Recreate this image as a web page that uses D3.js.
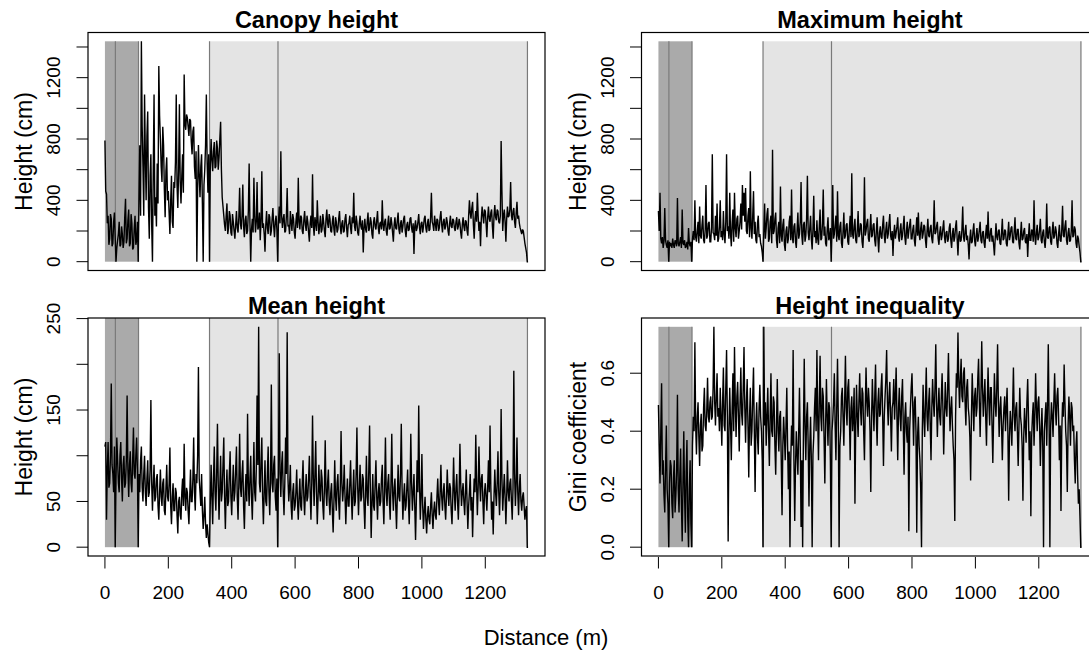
<!DOCTYPE html>
<html>
<head>
<meta charset="utf-8">
<script src="https://cdn.jsdelivr.net/npm/d3@7"></script>
<style>
  body { margin: 0; background: #fff; }
  svg { display: block; }
  text { font-family: "Liberation Sans", Arial, sans-serif; fill: #000; }
</style>
</head>
<body>
<svg id="chart" width="1089" height="655"></svg>
<script>
// Transect sampled every 2.5 m from 0 to 1335 m (one row = 50 m)
const stepMetres = 2.5;

// Canopy height (cm)
const canopyHeight = [
  790, 460, 440, 250, 300, 110, 150, 310, 280, 100, 120, 260, 320, 150, 0, 90, 140, 180, 260, 100,
  110, 230, 180, 90, 130, 290, 410, 120, 150, 270, 340, 100, 120, 310, 250, 80, 90, 220, 300, 110,
  140, 260, 0, 420, 760, 300, 1437, 880, 620, 300, 1090, 700, 400, 820, 980, 350, 150, 560, 700, 240,
  0, 600, 1090, 300, 420, 230, 640, 380, 1276, 950, 800, 620, 520, 880, 760, 470, 290, 590, 680, 400,
  460, 320, 180, 400, 560, 260, 220, 520, 480, 650, 1090, 500, 350, 600, 1026, 520, 380, 560, 700, 450,
  1220, 900, 860, 960, 940, 880, 820, 930, 920, 780, 700, 850, 880, 620, 540, 720, 0, 480, 760, 560,
  420, 620, 700, 380, 0, 500, 600, 760, 1090, 640, 450, 700, 0, 640, 800, 660, 590, 720, 780, 610,
  620, 790, 740, 600, 680, 800, 913, 600, 420, 360, 300, 240, 200, 300, 380, 180, 220, 330, 300, 190,
  170, 310, 260, 200, 150, 240, 330, 220, 190, 290, 482, 250, 210, 300, 504, 230, 160, 270, 300, 180,
  200, 330, 640, 250, 0, 210, 280, 190, 547, 300, 190, 260, 520, 210, 230, 320, 140, 270, 590, 220,
  250, 180, 65, 240, 330, 220, 180, 310, 290, 170, 200, 280, 350, 230, 160, 260, 300, 210, 0, 260,
  360, 250, 720, 300, 220, 280, 310, 190, 200, 300, 480, 230, 240, 180, 330, 260, 200, 310, 280, 190,
  150, 260, 320, 220, 547, 260, 210, 300, 290, 200, 180, 270, 330, 240, 200, 300, 260, 190, 130, 250,
  300, 220, 570, 240, 170, 290, 250, 200, 400, 260, 180, 240, 300, 190, 210, 310, 260, 200, 160, 280,
  340, 250, 220, 310, 280, 200, 190, 260, 300, 210, 170, 290, 260, 190, 210, 280, 330, 230, 180, 250,
  270, 190, 200, 280, 310, 220, 160, 240, 250, 300, 220, 180, 290, 250, 450, 230, 200, 300, 260, 190,
  170, 250, 300, 230, 210, 270, 60, 220, 280, 210, 190, 260, 320, 200, 220, 290, 260, 180, 150, 260,
  290, 230, 210, 270, 330, 220, 180, 250, 260, 210, 400, 240, 200, 260, 280, 200, 170, 250, 300, 210,
  220, 290, 250, 190, 130, 240, 290, 220, 210, 270, 320, 210, 180, 250, 270, 190, 230, 280, 300, 200,
  160, 240, 260, 200, 210, 280, 290, 220, 190, 250, 50, 230, 270, 200, 220, 260, 310, 220, 180, 250,
  260, 190, 230, 280, 300, 220, 190, 250, 280, 200, 210, 290, 450, 260, 240, 200, 300, 250, 200, 280,
  270, 200, 220, 290, 330, 240, 190, 260, 280, 210, 230, 290, 260, 200, 170, 250, 300, 230, 220, 280,
  270, 220, 200, 260, 290, 210, 230, 280, 250, 190, 150, 240, 290, 230, 200, 270, 260, 200, 170, 300,
  400, 320, 280, 350, 390, 240, 150, 280, 330, 260, 450, 300, 200, 260, 100, 280, 360, 300, 250, 340,
  330, 250, 160, 290, 360, 280, 260, 320, 340, 230, 150, 300, 370, 290, 270, 340, 330, 260, 250, 300,
  787, 460, 200, 300, 340, 260, 130, 280, 360, 290, 300, 340, 520, 300, 270, 330, 350, 260, 220, 320,
  390, 280, 300, 250, 220, 200, 180, 210, 200, 160, 120, 90, 60, 0, 0
];

// Maximum height (cm)
const maximumHeight = [
  330, 200, 450, 150, 120, 160, 90, 130, 350, 140, 110, 90, 140, 0, 130, 100, 120, 90, 150, 110,
  90, 140, 130, 100, 415, 120, 100, 130, 160, 90, 340, 120, 110, 140, 90, 100, 130, 80, 220, 120,
  100, 130, 0, 150, 200, 140, 400, 160, 130, 200, 260, 120, 360, 170, 150, 240, 300, 140, 120, 210,
  500, 150, 170, 250, 260, 130, 130, 220, 700, 190, 180, 140, 300, 170, 380, 130, 150, 230, 400, 160,
  200, 140, 330, 180, 120, 260, 700, 200, 230, 150, 450, 180, 100, 250, 340, 130, 450, 220, 160, 280,
  300, 150, 200, 260, 380, 210, 500, 300, 450, 260, 480, 200, 180, 300, 350, 160, 590, 220, 150, 300,
  460, 180, 260, 140, 120, 250, 300, 160, 180, 120, 100, 60, 0, 200, 380, 150, 220, 310, 350, 130,
  150, 260, 300, 120, 730, 180, 200, 280, 320, 140, 90, 220, 260, 120, 490, 170, 130, 240, 280, 110,
  70, 200, 230, 120, 150, 260, 300, 140, 470, 160, 120, 230, 250, 130, 90, 210, 320, 150, 180, 260,
  520, 170, 110, 240, 260, 130, 170, 280, 560, 190, 140, 220, 300, 150, 80, 210, 430, 160, 200, 120,
  270, 150, 110, 230, 340, 140, 150, 250, 470, 170, 230, 120, 100, 210, 290, 140, 160, 220, 0, 200,
  500, 150, 180, 240, 300, 130, 460, 170, 140, 230, 260, 120, 90, 200, 320, 150, 170, 240, 250, 130,
  110, 220, 300, 160, 576, 180, 150, 230, 280, 140, 120, 210, 330, 160, 180, 250, 240, 130, 90, 200,
  550, 170, 200, 250, 280, 150, 130, 220, 310, 160, 170, 240, 250, 140, 100, 200, 290, 150, 60, 190,
  230, 160, 150, 240, 300, 170, 120, 210, 260, 150, 180, 250, 310, 170, 140, 200, 37, 180, 240, 150,
  190, 230, 290, 160, 130, 210, 250, 140, 170, 230, 300, 160, 110, 200, 260, 150, 200, 240, 280, 150,
  150, 210, 240, 140, 100, 200, 290, 170, 320, 180, 140, 220, 260, 150, 180, 240, 230, 140, 90, 200,
  280, 170, 160, 220, 240, 150, 120, 210, 400, 180, 190, 230, 260, 150, 110, 190, 230, 140, 170, 220,
  270, 160, 120, 190, 200, 130, 150, 220, 250, 140, 90, 180, 220, 130, 160, 230, 270, 150, 40, 170,
  200, 130, 140, 210, 360, 160, 130, 200, 240, 140, 170, 110, 15, 150, 210, 120, 130, 200, 250, 140,
  100, 170, 220, 130, 160, 210, 260, 140, 120, 190, 200, 120, 90, 180, 240, 150, 327, 160, 130, 200,
  220, 130, 170, 110, 40, 150, 250, 160, 140, 200, 210, 120, 110, 190, 280, 140, 150, 210, 200, 120,
  100, 180, 260, 140, 170, 220, 230, 130, 120, 200, 290, 150, 140, 210, 210, 120, 80, 180, 260, 140,
  150, 200, 220, 130, 120, 180, 30, 160, 250, 140, 140, 210, 200, 130, 400, 170, 110, 190, 240, 140,
  160, 210, 280, 140, 120, 190, 210, 130, 90, 170, 380, 160, 150, 220, 230, 130, 110, 200, 260, 150,
  170, 230, 200, 120, 90, 180, 240, 140, 130, 210, 365, 170, 160, 230, 270, 140, 110, 190, 220, 130,
  140, 200, 400, 160, 170, 230, 210, 120, 90, 170, 150, 100, 60, 0, 0
];

// Mean height (cm)
const meanHeight = [
  110, 115, 30, 85, 115, 65, 70, 100, 179, 90, 80, 60, 110, 0, 75, 120, 95, 70, 60, 100,
  115, 75, 50, 90, 100, 65, 70, 95, 166, 85, 55, 90, 105, 70, 60, 95, 131, 80, 75, 100,
  120, 85, 0, 80, 60, 95, 110, 65, 50, 80, 100, 60, 45, 75, 95, 55, 60, 85, 161, 70,
  40, 70, 90, 50, 55, 75, 80, 45, 30, 60, 85, 55, 45, 70, 75, 40, 35, 65, 90, 55,
  50, 70, 109, 45, 25, 55, 70, 40, 40, 65, 60, 35, 15, 50, 55, 35, 30, 60, 75, 45,
  113, 55, 40, 65, 60, 40, 25, 55, 85, 50, 50, 75, 120, 60, 40, 80, 70, 100, 197, 75,
  60, 45, 80, 40, 20, 35, 55, 25, 10, 25, 15, 5, 0, 50, 90, 55, 25, 75, 110, 60,
  40, 80, 135, 70, 30, 65, 100, 50, 60, 90, 120, 55, 20, 60, 85, 45, 50, 80, 105, 55,
  35, 65, 90, 50, 60, 85, 110, 55, 30, 70, 124, 65, 55, 80, 95, 45, 20, 60, 80, 50,
  146, 70, 45, 75, 100, 55, 30, 70, 115, 60, 50, 85, 166, 90, 241, 70, 60, 95, 120, 55,
  25, 60, 95, 50, 45, 80, 110, 60, 35, 75, 178, 70, 60, 90, 100, 55, 40, 75, 0, 85,
  212, 80, 55, 90, 105, 60, 35, 70, 120, 80, 235, 75, 50, 65, 90, 45, 30, 60, 70, 40,
  45, 60, 85, 50, 30, 55, 75, 45, 40, 70, 95, 55, 35, 60, 80, 50, 55, 75, 100, 60,
  30, 70, 144, 75, 45, 80, 116, 60, 25, 55, 90, 60, 50, 85, 75, 45, 30, 65, 117, 60,
  45, 70, 85, 50, 35, 60, 70, 40, 16, 50, 95, 55, 40, 70, 80, 50, 30, 65, 127, 70,
  50, 65, 90, 55, 25, 55, 75, 45, 45, 70, 95, 55, 30, 60, 85, 45, 50, 80, 131, 65,
  35, 65, 90, 50, 55, 80, 75, 45, 20, 60, 100, 55, 45, 85, 133, 60, 10, 50, 80, 45,
  40, 70, 95, 55, 30, 60, 70, 45, 50, 75, 90, 50, 25, 65, 120, 60, 45, 70, 80, 50,
  30, 70, 124, 60, 40, 65, 75, 45, 20, 55, 90, 55, 50, 80, 135, 65, 30, 55, 70, 40,
  45, 65, 85, 50, 25, 60, 124, 70, 40, 60, 80, 45, 8, 50, 95, 60, 155, 70, 30, 55,
  102, 45, 20, 40, 55, 30, 15, 35, 45, 30, 25, 45, 60, 35, 20, 40, 50, 35, 30, 55,
  75, 50, 35, 60, 90, 55, 40, 60, 70, 45, 30, 55, 85, 60, 45, 70, 65, 40, 25, 55,
  98, 60, 40, 65, 80, 50, 30, 60, 113, 70, 45, 60, 70, 50, 35, 60, 85, 50, 20, 45,
  60, 80, 40, 55, 11, 50, 75, 60, 123, 70, 35, 65, 110, 70, 50, 75, 80, 50, 25, 60,
  70, 55, 40, 65, 95, 60, 133, 65, 30, 50, 14, 55, 85, 60, 45, 70, 105, 60, 35, 65,
  151, 75, 40, 60, 80, 55, 25, 55, 95, 60, 50, 70, 75, 50, 30, 65, 193, 80, 45, 70,
  120, 60, 35, 65, 80, 50, 40, 55, 60, 45, 30, 40, 45, 0, 0
];

// Height inequality (Gini coefficient)
const giniCoefficient = [
  0.49, 0.35, 0.22, 0.40, 0.565, 0.25, 0.30, 0.18, 0.12, 0.28, 0.42, 0.20, 0.15, 0, 0.22, 0.30, 0.28, 0.15, 0.10, 0.24,
  0.30, 0.12, 0.18, 0.26, 0.526, 0.20, 0.12, 0.25, 0.34, 0.15, 0.02, 0.22, 0.40, 0.18, 0.05, 0.26, 0.37, 0.10, 0, 0.20,
  0.30, 0.08, 0, 0.35, 0.45, 0.40, 0.707, 0.42, 0.32, 0.45, 0.50, 0.38, 0.28, 0.42, 0.46, 0.33, 0.35, 0.48, 0.55, 0.42,
  0.40, 0.47, 0.584, 0.45, 0.43, 0.50, 0.52, 0.44, 0.45, 0.55, 0.76, 0.50, 0.42, 0.52, 0.60, 0.45, 0.48, 0.40, 0.55, 0.45,
  0.35, 0.50, 0.62, 0.42, 0.40, 0.55, 0.68, 0.45, 0.02, 0.40, 0.55, 0.42, 0.30, 0.48, 0.60, 0.40, 0.69, 0.50, 0.38, 0.52,
  0.57, 0.45, 0.33, 0.50, 0.62, 0.46, 0.42, 0.55, 0.69, 0.48, 0.36, 0.50, 0.58, 0.42, 0.24, 0.45, 0.55, 0.35, 0.40, 0.52,
  0.62, 0.40, 0.19, 0.42, 0.50, 0.38, 0.32, 0.48, 0.56, 0.45, 0.40, 0.30, 0, 0.76, 0.42, 0.50, 0.35, 0.45, 0.55, 0.40,
  0.28, 0.45, 0.60, 0.40, 0.38, 0.52, 0.50, 0.35, 0.25, 0.42, 0.58, 0.40, 0.33, 0.45, 0.47, 0.30, 0.11, 0.35, 0.45, 0.38,
  0.30, 0.42, 0.55, 0.35, 0.20, 0.33, 0, 0.30, 0.42, 0.35, 0.68, 0.30, 0.09, 0.28, 0.40, 0.32, 0.25, 0.40, 0.55, 0.35,
  0.07, 0.30, 0, 0.40, 0.65, 0.42, 0.30, 0.45, 0.50, 0.35, 0.14, 0.35, 0.45, 0.30, 0, 0.32, 0.38, 0.48, 0.55, 0.40,
  0.68, 0.45, 0.30, 0.50, 0.66, 0.45, 0.40, 0.55, 0.52, 0.38, 0.22, 0.42, 0.58, 0.45, 0.35, 0.50, 0.48, 0.30, 0, 0.40,
  0.44, 0.50, 0.60, 0.42, 0.30, 0.48, 0.65, 0.45, 0, 0.35, 0.40, 0.52, 0.55, 0.45, 0.35, 0.50, 0.66, 0.48, 0.42, 0.55,
  0.58, 0.45, 0.30, 0.48, 0.52, 0.40, 0.45, 0.55, 0.15, 0.42, 0.56, 0.45, 0.38, 0.50, 0.60, 0.48, 0.42, 0.55, 0.53, 0.40,
  0.30, 0.48, 0.62, 0.50, 0.45, 0.55, 0.50, 0.40, 0.19, 0.45, 0.58, 0.48, 0.40, 0.52, 0.63, 0.45, 0.35, 0.50, 0.55, 0.45,
  0.46, 0.55, 0.60, 0.45, 0.28, 0.45, 0.52, 0.58, 0.68, 0.50, 0.42, 0.52, 0.57, 0.45, 0.33, 0.48, 0.50, 0.58, 0.44, 0.52,
  0.62, 0.45, 0.30, 0.48, 0.55, 0.45, 0.40, 0.52, 0.58, 0.42, 0.25, 0.45, 0.50, 0.40, 0.36, 0.45, 0.055, 0.40, 0.48, 0.55,
  0.60, 0.48, 0.35, 0.50, 0.52, 0.40, 0.05, 0.38, 0.45, 0.35, 0.30, 0.20, 0, 0.40, 0.56, 0.45, 0.38, 0.50, 0.62, 0.45,
  0.40, 0.50, 0.55, 0.42, 0.30, 0.48, 0.58, 0.50, 0.45, 0.55, 0.70, 0.50, 0.38, 0.48, 0.55, 0.45, 0.42, 0.52, 0.60, 0.48,
  0.32, 0.45, 0.57, 0.48, 0.45, 0.55, 0.67, 0.50, 0.40, 0.48, 0.52, 0.42, 0.35, 0.30, 0.09, 0.45, 0.60, 0.55, 0.74, 0.58,
  0.48, 0.58, 0.65, 0.52, 0.50, 0.60, 0.62, 0.50, 0.42, 0.55, 0.58, 0.48, 0.45, 0.38, 0.23, 0.45, 0.60, 0.50, 0.40, 0.52,
  0.55, 0.45, 0.48, 0.58, 0.65, 0.50, 0.38, 0.52, 0.71, 0.55, 0.45, 0.52, 0.58, 0.45, 0.35, 0.50, 0.62, 0.50, 0.42, 0.55,
  0.55, 0.42, 0.29, 0.45, 0.60, 0.50, 0.45, 0.55, 0.70, 0.50, 0.38, 0.48, 0.52, 0.42, 0.30, 0.42, 0.48, 0.52, 0.40, 0.48,
  0.55, 0.40, 0.16, 0.38, 0.47, 0.42, 0.35, 0.48, 0.62, 0.45, 0.40, 0.48, 0.50, 0.40, 0.28, 0.42, 0.55, 0.45, 0.42, 0.35,
  0.16, 0.38, 0.48, 0.42, 0.36, 0.50, 0.58, 0.45, 0.30, 0.40, 0.107, 0.38, 0.45, 0.50, 0.35, 0.45, 0.60, 0.48, 0.40, 0.50,
  0.52, 0.42, 0.28, 0.40, 0.48, 0.35, 0, 0.40, 0.45, 0.50, 0.35, 0.48, 0.70, 0.45, 0, 0.42, 0.50, 0.45, 0.38, 0.50,
  0.60, 0.48, 0.42, 0.52, 0.55, 0.45, 0.30, 0.42, 0.125, 0.40, 0.50, 0.45, 0.63, 0.50, 0.40, 0.35, 0.19, 0.42, 0.52, 0.45,
  0.35, 0.50, 0.48, 0.40, 0.42, 0.30, 0.22, 0.35, 0.40, 0.25, 0.15, 0.20, 0.10, 0, 0
];

// Axis ticks and labels
const distanceTicks = [0, 200, 400, 600, 800, 1000, 1200];
const heightTicks = [0, 200, 400, 600, 800, 1000, 1200, 1400];
const heightTickLabels = [0, 400, 800, 1200];
const meanTicks = [0, 50, 100, 150, 200, 250];
const meanTickLabels = [0, 50, 150, 250];
const giniTicks = [0, 0.2, 0.4, 0.6];
const giniTickLabels = [0, 0.2, 0.4, 0.6];

// Transect sections (m): shaded zones and boundary markers
const darkZone = [0, 106];
const lightZone = [330, 1333];
const sectionBoundaries = [33, 106, 330, 546, 1333];

const svg = d3.select("#chart");
const boxW = 457, boxH = 238;

const panels = [
  { title: "Canopy height", values: canopyHeight, yMax: 1437, shadeTop: 1437,
    ticks: heightTicks, labels: heightTickLabels, fmt: d3.format("d"),
    ylab: "Height (cm)", left: 88, top: 32.5, xAxis: false },
  { title: "Maximum height", values: maximumHeight, yMax: 1437, shadeTop: 1437,
    ticks: heightTicks, labels: heightTickLabels, fmt: d3.format("d"),
    ylab: "Height (cm)", left: 641.5, top: 32.5, xAxis: false },
  { title: "Mean height", values: meanHeight, yMax: 241, shadeTop: 260,
    ticks: meanTicks, labels: meanTickLabels, fmt: d3.format("d"),
    ylab: "Height (cm)", left: 88, top: 318, xAxis: true },
  { title: "Height inequality", values: giniCoefficient, yMax: 0.76, shadeTop: 0.76,
    ticks: giniTicks, labels: giniTickLabels, fmt: d3.format(".1f"),
    ylab: "Gini coefficient", left: 641.5, top: 318, xAxis: true }
];

panels.forEach((p, i) => {
  const n = p.values.length;
  const xEnd = (n - 1) * stepMetres;
  const x = d3.scaleLinear()
    .domain([-0.04 * xEnd, 1.04 * xEnd])
    .range([p.left, p.left + boxW]);
  const y = d3.scaleLinear()
    .domain([-0.04 * p.yMax, 1.04 * p.yMax])
    .range([p.top + boxH, p.top]);

  const clipId = "plot-clip-" + i;
  svg.append("clipPath").attr("id", clipId)
    .append("rect")
    .attr("x", p.left).attr("y", p.top)
    .attr("width", boxW).attr("height", boxH);

  const g = svg.append("g").attr("clip-path", `url(#${clipId})`);

  // shaded sections
  g.append("rect")
    .attr("x", x(darkZone[0])).attr("y", y(p.shadeTop))
    .attr("width", x(darkZone[1]) - x(darkZone[0]))
    .attr("height", y(0) - y(p.shadeTop))
    .attr("fill", "#aaaaaa");
  g.append("rect")
    .attr("x", x(lightZone[0])).attr("y", y(p.shadeTop))
    .attr("width", x(lightZone[1]) - x(lightZone[0]))
    .attr("height", y(0) - y(p.shadeTop))
    .attr("fill", "#e4e4e4");

  // section boundaries
  g.selectAll(".boundary").data(sectionBoundaries).enter().append("line")
    .attr("x1", d => x(d)).attr("x2", d => x(d))
    .attr("y1", y(0)).attr("y2", y(p.shadeTop))
    .attr("stroke", "#7a7a7a").attr("stroke-width", 1.2);

  // series
  const line = d3.line()
    .x((d, j) => x(j * stepMetres))
    .y(d => y(d));
  g.append("path")
    .datum(p.values)
    .attr("d", line)
    .attr("fill", "none")
    .attr("stroke", "#000")
    .attr("stroke-width", 1.4)
    .attr("stroke-linejoin", "miter")
    .attr("stroke-miterlimit", 2);

  // frame
  svg.append("rect")
    .attr("x", p.left).attr("y", p.top)
    .attr("width", boxW).attr("height", boxH)
    .attr("fill", "none").attr("stroke", "#000").attr("stroke-width", 1.2);

  // y axis ticks
  svg.selectAll(null).data(p.ticks).enter().append("line")
    .attr("x1", p.left - 11.5).attr("x2", p.left)
    .attr("y1", d => y(d)).attr("y2", d => y(d))
    .attr("stroke", "#000").attr("stroke-width", 1);
  svg.selectAll(null).data(p.labels).enter().append("text")
    .attr("transform", d => `translate(${p.left - 28},${y(d)}) rotate(-90)`)
    .attr("text-anchor", "middle")
    .style("font-size", "19px")
    .text(d => p.fmt(d));

  // y axis title
  svg.append("text")
    .attr("transform", `translate(${p.left - 56},${p.top + boxH / 2}) rotate(-90)`)
    .attr("text-anchor", "middle")
    .style("font-size", "23px")
    .text(p.ylab);

  // panel title
  svg.append("text")
    .attr("x", p.left + boxW / 2 > 1089 ? 869 : p.left + boxW / 2)
    .attr("y", p.top - 4.5)
    .attr("text-anchor", "middle")
    .style("font-size", "23.5px")
    .style("font-weight", "bold")
    .text(p.title);

  // x axis for the lower row
  if (p.xAxis) {
    const base = p.top + boxH;
    svg.selectAll(null).data(distanceTicks).enter().append("line")
      .attr("x1", d => x(d)).attr("x2", d => x(d))
      .attr("y1", base + 1).attr("y2", base + 12.5)
      .attr("stroke", "#000").attr("stroke-width", 1);
    svg.selectAll(null).data(distanceTicks).enter().append("text")
      .attr("x", d => x(d)).attr("y", base + 43)
      .attr("text-anchor", "middle")
      .style("font-size", "19px")
      .text(d => d);
  }
});

// shared x axis title
svg.append("text")
  .attr("x", 546).attr("y", 645)
  .attr("text-anchor", "middle")
  .style("font-size", "22px")
  .text("Distance (m)");
</script>
</body>
</html>
